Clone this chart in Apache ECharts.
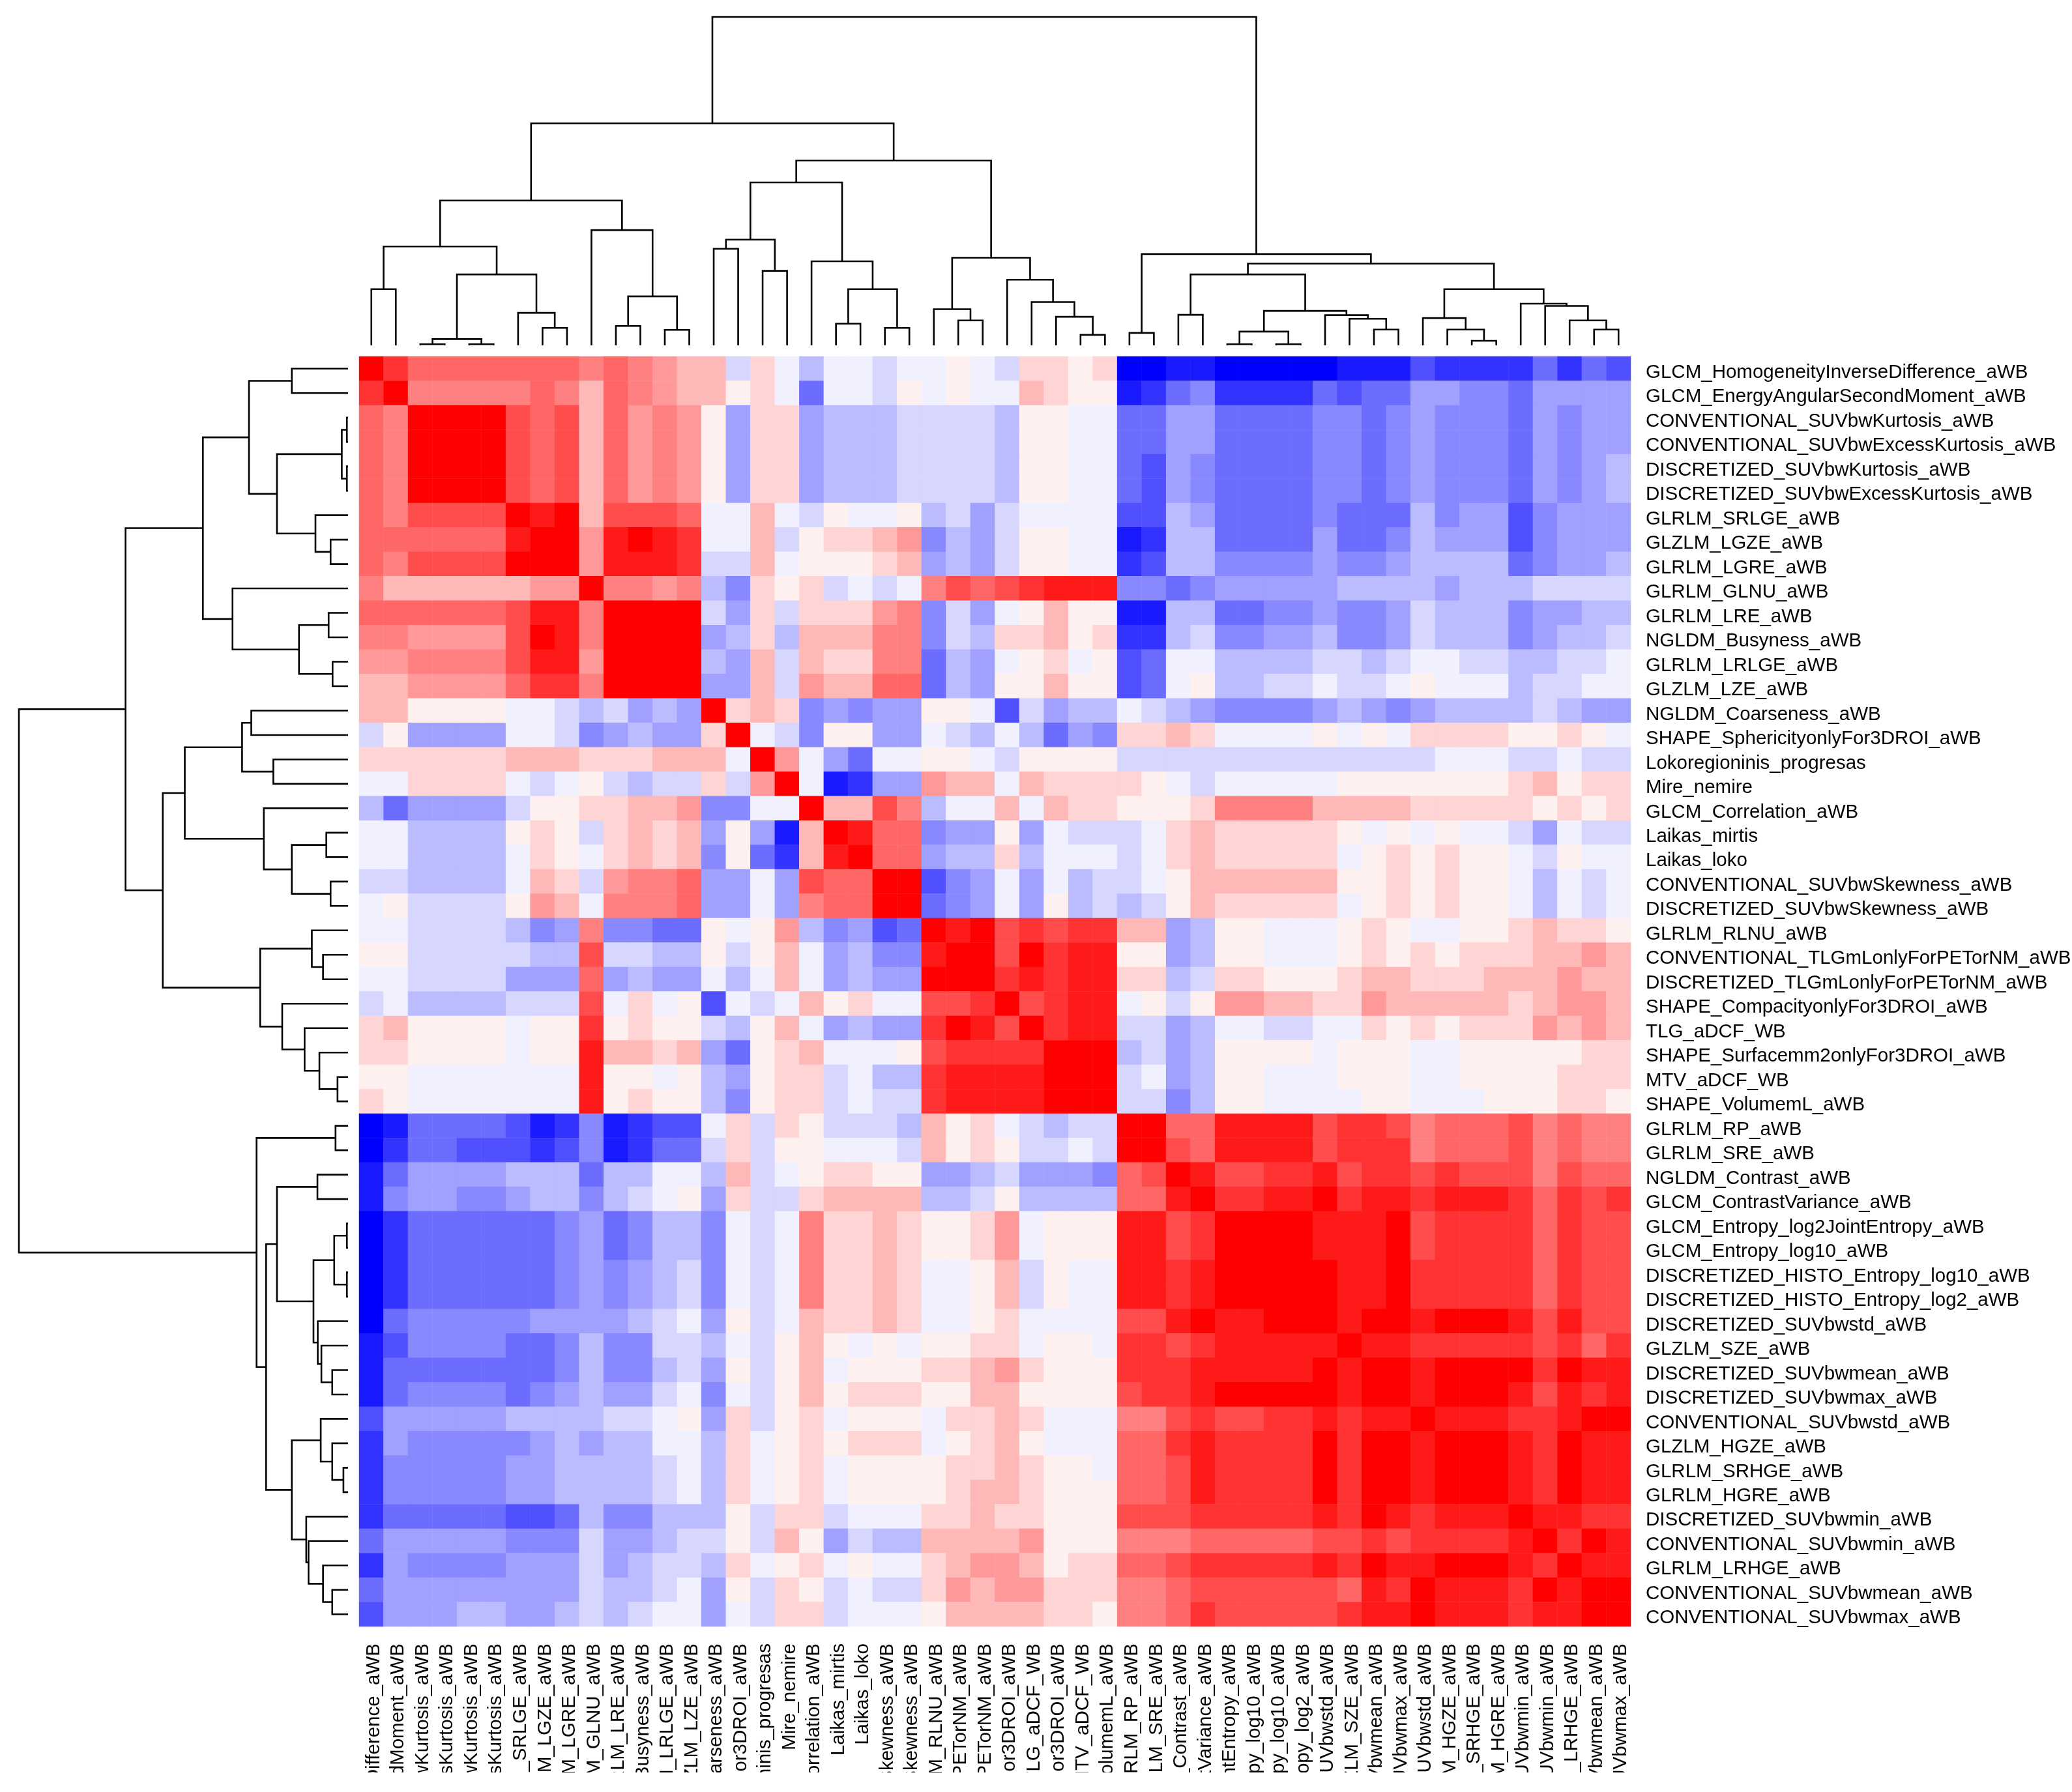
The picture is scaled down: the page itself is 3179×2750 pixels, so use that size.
<!DOCTYPE html>
<html>
<head>
<meta charset="utf-8">
<style>html,body{margin:0;padding:0;background:#fff}#c{width:3179px;height:2720px}</style>
<script src="https://cdn.jsdelivr.net/npm/echarts@6/dist/echarts.min.js"></script>
</head>
<body>
<div id="c"></div>
<script>
const features = ["GLCM_HomogeneityInverseDifference_aWB","GLCM_EnergyAngularSecondMoment_aWB","CONVENTIONAL_SUVbwKurtosis_aWB","CONVENTIONAL_SUVbwExcessKurtosis_aWB","DISCRETIZED_SUVbwKurtosis_aWB","DISCRETIZED_SUVbwExcessKurtosis_aWB","GLRLM_SRLGE_aWB","GLZLM_LGZE_aWB","GLRLM_LGRE_aWB","GLRLM_GLNU_aWB","GLRLM_LRE_aWB","NGLDM_Busyness_aWB","GLRLM_LRLGE_aWB","GLZLM_LZE_aWB","NGLDM_Coarseness_aWB","SHAPE_SphericityonlyFor3DROI_aWB","Lokoregioninis_progresas","Mire_nemire","GLCM_Correlation_aWB","Laikas_mirtis","Laikas_loko","CONVENTIONAL_SUVbwSkewness_aWB","DISCRETIZED_SUVbwSkewness_aWB","GLRLM_RLNU_aWB","CONVENTIONAL_TLGmLonlyForPETorNM_aWB","DISCRETIZED_TLGmLonlyForPETorNM_aWB","SHAPE_CompacityonlyFor3DROI_aWB","TLG_aDCF_WB","SHAPE_Surfacemm2onlyFor3DROI_aWB","MTV_aDCF_WB","SHAPE_VolumemL_aWB","GLRLM_RP_aWB","GLRLM_SRE_aWB","NGLDM_Contrast_aWB","GLCM_ContrastVariance_aWB","GLCM_Entropy_log2JointEntropy_aWB","GLCM_Entropy_log10_aWB","DISCRETIZED_HISTO_Entropy_log10_aWB","DISCRETIZED_HISTO_Entropy_log2_aWB","DISCRETIZED_SUVbwstd_aWB","GLZLM_SZE_aWB","DISCRETIZED_SUVbwmean_aWB","DISCRETIZED_SUVbwmax_aWB","CONVENTIONAL_SUVbwstd_aWB","GLZLM_HGZE_aWB","GLRLM_SRHGE_aWB","GLRLM_HGRE_aWB","DISCRETIZED_SUVbwmin_aWB","CONVENTIONAL_SUVbwmin_aWB","GLRLM_LRHGE_aWB","CONVENTIONAL_SUVbwmean_aWB","CONVENTIONAL_SUVbwmax_aWB"];

// Correlation bins (tenths), upper triangle: each row starts at its own diagonal cell.
const row01=[10,8,6,6,6,6,6,6,6,5,6,5,4,3,3,-2,2,-1,-3,-1,-1,-2,-1,-1,1,-1,-2,2,2,1,2,-10,-10,-9,-9,-10,-10,-10,-10,-10,-9,-9,-9,-7,-8,-8,-8,-8,-6,-8,-6,-7];
const row02=[10,5,5,5,5,5,6,5,3,6,5,4,3,3,1,2,-1,-6,-1,-1,-2,1,-1,1,-1,-1,3,2,1,1,-9,-8,-6,-5,-8,-8,-8,-8,-6,-7,-6,-6,-4,-4,-5,-5,-6,-4,-4,-4,-4];
const row03=[10,10,10,10,7,6,7,3,6,4,5,4,1,-4,2,2,-4,-3,-3,-3,-2,-2,-2,-2,-3,1,1,-1,-1,-6,-6,-4,-4,-6,-6,-6,-6,-5,-5,-6,-5,-4,-5,-5,-5,-6,-4,-5,-4,-4];
const row04=[10,10,10,7,6,7,3,6,4,5,4,1,-4,2,2,-4,-3,-3,-3,-2,-2,-2,-2,-3,1,1,-1,-1,-6,-6,-4,-4,-6,-6,-6,-6,-5,-5,-6,-5,-4,-5,-5,-5,-6,-4,-5,-4,-4];
const row05=[10,10,7,6,7,3,6,4,5,4,1,-4,2,2,-4,-3,-3,-3,-2,-2,-2,-2,-3,1,1,-1,-1,-6,-7,-4,-5,-6,-6,-6,-6,-5,-5,-6,-5,-4,-5,-5,-5,-6,-4,-5,-4,-3];
const row06=[10,7,6,7,3,6,4,5,4,1,-4,2,2,-4,-3,-3,-3,-2,-2,-2,-2,-3,1,1,-1,-1,-6,-7,-4,-5,-6,-6,-6,-6,-5,-5,-6,-5,-4,-5,-5,-5,-6,-4,-5,-4,-3];
const row07=[10,9,10,3,7,7,7,6,-1,-1,3,-1,-2,1,-1,-1,1,-3,-2,-4,-2,-1,-1,-1,-1,-7,-7,-3,-4,-6,-6,-6,-6,-5,-6,-6,-6,-3,-5,-4,-4,-7,-5,-4,-4,-4];
const row08=[10,10,4,9,10,9,8,-1,-1,3,-2,1,2,2,3,4,-5,-3,-4,-2,1,1,-1,-1,-9,-8,-3,-3,-6,-6,-6,-6,-4,-6,-6,-5,-3,-4,-4,-4,-7,-5,-4,-4,-4];
const row09=[10,4,9,9,9,8,-2,-2,3,-1,1,1,1,2,3,-4,-3,-4,-2,1,1,-1,-1,-8,-7,-3,-3,-5,-5,-5,-5,-4,-5,-5,-4,-3,-3,-3,-3,-6,-5,-4,-4,-3];
const row10=[10,5,5,4,5,-3,-5,2,1,2,-2,-1,-2,-1,5,7,6,7,8,9,9,9,-5,-5,-6,-5,-4,-4,-4,-4,-4,-3,-3,-3,-3,-4,-3,-3,-3,-2,-2,-2,-2];
const row11=[10,10,10,10,-2,-4,2,-2,2,2,2,4,5,-5,-2,-4,-1,1,3,1,1,-9,-9,-3,-3,-6,-6,-5,-5,-4,-5,-5,-4,-2,-3,-3,-3,-5,-4,-4,-3,-3];
const row12=[10,10,10,-4,-3,2,-3,3,3,3,5,5,-5,-2,-3,2,2,3,1,2,-8,-8,-3,-2,-5,-5,-4,-4,-3,-5,-5,-4,-2,-3,-3,-3,-5,-4,-3,-3,-2];
const row13=[10,10,-3,-4,3,-2,3,2,2,5,5,-6,-3,-4,-1,1,2,-1,1,-7,-6,-1,-1,-3,-3,-3,-3,-2,-2,-3,-2,-1,-1,-2,-2,-3,-3,-2,-2,-1];
const row14=[10,-4,-4,3,-2,4,3,3,6,6,-6,-3,-4,1,1,3,1,1,-7,-6,-1,1,-3,-3,-2,-2,-1,-2,-2,-1,1,-1,-1,-1,-3,-2,-2,-1,-1];
const row15=[10,2,3,2,-5,-4,-5,-4,-4,1,1,-1,-7,-2,-4,-3,-3,-1,-2,-3,-4,-5,-5,-5,-5,-4,-3,-4,-5,-4,-3,-3,-3,-3,-2,-3,-4,-4];
const row16=[10,-1,-2,-5,1,1,-4,-4,-1,-2,-3,-1,-3,-6,-4,-5,2,2,3,2,-1,-1,-1,-1,1,-1,1,-1,2,2,2,2,1,1,2,1,-1];
const row17=[10,4,-1,-4,-6,-1,-1,1,1,-1,-2,1,1,1,1,-2,-2,-2,-2,-2,-2,-2,-2,-2,-2,-2,-2,-2,-1,-1,-1,-2,-2,-1,-2,-2];
const row18=[10,-1,-9,-8,-4,-4,4,3,3,-1,3,2,2,2,2,1,-1,-2,-1,-1,-1,-1,-1,1,1,1,1,1,1,1,2,3,1,2,2];
const row19=[10,3,3,7,5,-3,-1,-1,3,-1,3,2,2,1,1,1,2,5,5,5,5,3,3,3,3,2,2,2,2,2,1,2,1,2];
const row20=[10,9,6,6,-5,-4,-4,1,-4,-1,-2,-2,-2,-1,2,3,2,2,2,2,2,1,-1,1,-1,1,-1,-1,-2,-4,-1,-2,-2];
const row21=[10,6,6,-4,-3,-3,2,-3,-1,-1,-1,-2,-1,2,3,2,2,2,2,2,-1,1,2,1,2,1,1,-1,-2,1,-1,-1];
const row22=[10,10,-7,-5,-4,-1,-4,-1,-3,-2,-2,-1,1,3,3,3,3,3,3,1,1,2,1,2,1,1,-1,-3,-1,-2,-1];
const row23=[10,-6,-5,-4,-1,-4,1,-3,-2,-3,-2,1,3,2,2,2,2,2,-1,1,2,1,2,1,1,-1,-3,-1,-2,-1];
const row24=[10,9,10,7,8,7,8,8,3,3,-4,-3,1,1,-1,-1,-1,1,2,1,-1,-1,1,1,2,3,2,2,1];
const row25=[10,10,7,10,8,9,9,1,1,-4,-3,1,1,-1,-1,-1,1,2,1,2,1,2,2,2,3,3,4,3];
const row26=[10,8,9,8,9,9,2,2,-3,-2,2,2,1,1,1,2,3,3,2,2,2,3,3,3,4,3,3];
const row27=[10,7,8,9,9,-1,1,-2,1,4,4,3,3,2,2,4,3,3,3,3,3,2,3,4,4,3];
const row28=[10,8,9,9,-2,-2,-4,-3,-1,-1,-2,-2,-1,-1,2,1,2,1,2,2,2,4,3,4,3];
const row29=[10,10,10,-3,-2,-4,-3,1,1,1,1,-1,1,1,1,-1,-1,1,1,1,1,1,2,2];
const row30=[10,10,-2,-1,-4,-3,1,1,-1,-1,-1,1,1,1,-1,-1,1,1,1,1,2,2,2];
const row31=[10,-2,-2,-5,-3,1,1,-1,-1,-1,-1,1,1,-1,-1,-1,1,1,1,2,2,1];
const row32=[10,10,6,6,9,9,9,9,7,8,8,7,5,6,6,6,7,5,6,5,5];
const row33=[10,7,6,9,9,9,9,7,8,8,8,5,6,6,6,7,5,6,5,5];
const row34=[10,9,7,7,8,8,9,7,8,8,7,8,7,7,7,5,7,6,6];
const row35=[10,8,8,9,9,10,8,9,9,8,9,9,9,8,6,8,7,8];
const row36=[10,10,10,10,9,9,9,10,7,8,8,8,8,6,8,7,7];
const row37=[10,10,10,9,9,9,10,7,8,8,8,8,6,8,7,7];
const row38=[10,10,10,9,9,10,8,8,8,8,8,6,8,7,7];
const row39=[10,10,9,9,10,8,8,8,8,8,6,8,7,7];
const row40=[10,9,10,10,9,10,10,10,9,7,9,7,7];
const row41=[10,9,9,8,8,8,8,8,7,8,6,8];
const row42=[10,10,9,10,10,10,10,8,10,9,9];
const row43=[10,9,10,10,10,9,7,9,8,9];
const row44=[10,9,9,9,8,8,9,10,10];
const row45=[10,10,10,9,8,10,9,9];
const row46=[10,10,9,8,10,9,9];
const row47=[10,9,8,10,9,9];
const row48=[10,9,9,8,8];
const row49=[10,8,10,9];
const row50=[10,9,9];
const row51=[10,10];
const row52=[10];

// Colour key per bin.
const binValues=[10,9,8,7,6,5,4,3,2,1,-1,-2,-3,-4,-5,-6,-7,-8,-9,-10];
const binColors=["#ff0000","#ff1a1a","#ff3333","#ff4d4d","#ff6666","#ff8080","#ff9999","#ffb8b8","#ffd4d4","#fff0f0","#f0f0ff","#d6d6ff","#bbbbff","#a0a0ff","#8888ff","#6c6cff","#5050ff","#3333ff","#1a1aff","#0000ff"];

// hclust-style merges: positive = leaf number, negative = earlier merge number.
const mergeLeft =[1,3,5,-2,8,7,-4,-1,11,13,-9,10,-8,15,17,-14,20,22,-17,19,-16,25,24,30,29,28,27,-23,-21,-13,32,34,36,38,-33,42,41,40,-35,-32,46,45,44,51,50,49,48,-43,-40,-31,-30];
const mergeRight=[2,4,6,-3,9,-5,-6,-7,12,14,-10,-11,-12,16,18,-15,21,23,-18,-19,-20,26,-22,31,-24,-25,-26,-27,-28,-29,33,35,37,39,-34,43,-36,-37,-38,-39,47,-41,-42,52,-44,-45,-46,-47,-48,-49,-50];
const mergeHeight=[17.1,0.35,0.35,1.9,5.3,9.9,21.6,30.1,5.9,4.7,14.9,35.1,44.1,29.4,22.7,32.2,6.6,5.3,17.1,25.6,49.6,7.6,11.0,3.2,8.7,13.2,20.0,26.7,56.3,67.6,3.8,9.3,0.35,0.35,4.2,4.8,8.1,9.2,10.5,21.6,1.4,4.8,8.3,4.8,7.6,12.0,12.7,17.1,24.9,27.8,100];

const rows=[row01,row02,row03,row04,row05,row06,row07,row08,row09,row10,row11,row12,row13,row14,row15,row16,row17,row18,row19,row20,row21,row22,row23,row24,row25,row26,row27,row28,row29,row30,row31,row32,row33,row34,row35,row36,row37,row38,row39,row40,row41,row42,row43,row44,row45,row46,row47,row48,row49,row50,row51,row52];
const n=features.length;
const cells=[];
rows.forEach((r,i)=>{
  if(r.length!==n-i) throw new Error('row '+(i+1)+' has '+r.length+' expected '+(n-i));
  r.forEach((v,k)=>{const j=i+k;cells.push([j,i,v]);if(j!==i)cells.push([i,j,v]);});
});

// Dendrogram segments from the merge table.
const nodePos=[];
const posOf=id=>id>0?id-0.5:nodePos[-id-1].x;
const hOf=id=>id>0?0:nodePos[-id-1].h;
const links=mergeLeft.map((a,i)=>{
  const b=mergeRight[i],h=mergeHeight[i],xa=posOf(a),xb=posOf(b);
  nodePos.push({x:(xa+xb)/2,h});
  return [xa,hOf(a),xb,hOf(b),h];
});

const font='"Liberation Sans", Arial, sans-serif';
const fontSize=29.5;
const lineW=2.6;
const grids=[
  {left:551,top:547,width:1951,height:1949,outerBoundsMode:'none'},
  {left:551,top:26,width:1951,height:504,outerBoundsMode:'none'},
  {left:29,top:547,width:505,height:1949,outerBoundsMode:'none'}
];
const chart=echarts.init(document.getElementById('c'),null,{renderer:'canvas'});
chart.setOption({
  animation:false,
  backgroundColor:'#ffffff',
  grid:grids,
  tooltip:{show:false},
  visualMap:{type:'piecewise',show:false,seriesIndex:0,dimension:2,
    pieces:binValues.map((v,i)=>({value:v,color:binColors[i]}))},
  xAxis:[
    {type:'category',gridIndex:0,data:features,position:'bottom',
     axisLine:{show:false},axisTick:{show:false},splitLine:{show:false},
     axisLabel:{interval:0,rotate:90,margin:26,verticalAlign:'top',lineHeight:8,fontFamily:font,fontSize:fontSize,color:'#000'}},
    {type:'value',gridIndex:1,min:0,max:n,show:false},
    {type:'value',gridIndex:2,min:0,max:100,inverse:true,show:false}
  ],
  yAxis:[
    {type:'category',gridIndex:0,data:features,inverse:true,position:'right',
     axisLine:{show:false},axisTick:{show:false},splitLine:{show:false},
     axisLabel:{interval:0,margin:23,verticalAlign:'top',lineHeight:12,fontFamily:font,fontSize:fontSize,color:'#000'}},
    {type:'value',gridIndex:1,min:0,max:100,show:false},
    {type:'value',gridIndex:2,min:0,max:n,inverse:true,show:false}
  ],
  series:[
    {type:'heatmap',xAxisIndex:0,yAxisIndex:0,data:cells,progressive:0,itemStyle:{borderWidth:0},emphasis:{disabled:true}},
    {type:'custom',xAxisIndex:1,yAxisIndex:1,data:links,silent:true,
     renderItem:(p,api)=>({type:'polyline',
       shape:{points:[[api.value(0),api.value(1)],[api.value(0),api.value(4)],[api.value(2),api.value(4)],[api.value(2),api.value(3)]].map(q=>api.coord(q))},
       style:{fill:null,stroke:'#000',lineWidth:lineW}})},
    {type:'custom',xAxisIndex:2,yAxisIndex:2,data:links,silent:true,
     renderItem:(p,api)=>({type:'polyline',
       shape:{points:[[api.value(1),api.value(0)],[api.value(4),api.value(0)],[api.value(4),api.value(2)],[api.value(3),api.value(2)]].map(q=>api.coord(q))},
       style:{fill:null,stroke:'#000',lineWidth:lineW}})}
  ]
});
</script>
</body>
</html>
